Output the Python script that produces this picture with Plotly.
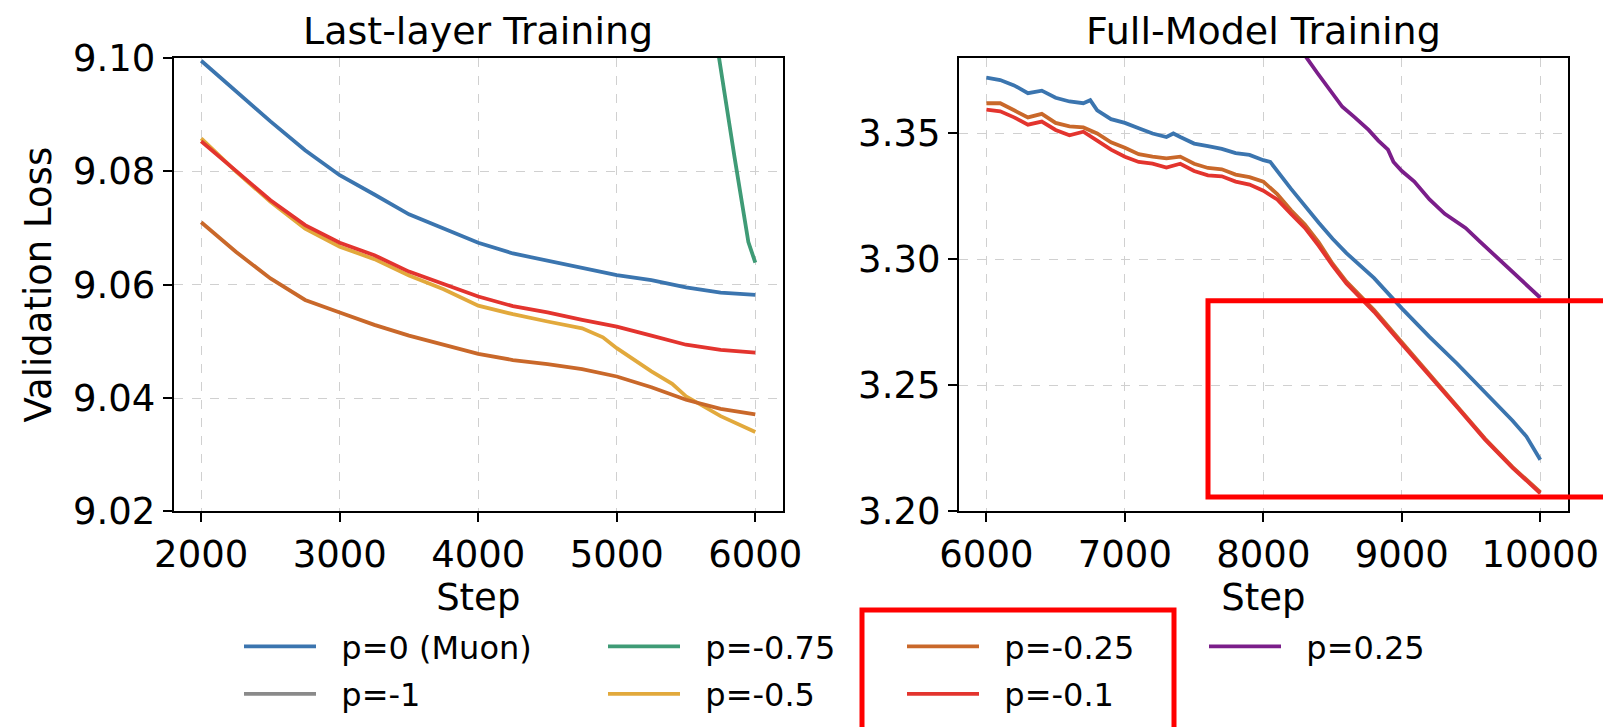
import plotly.graph_objects as go

# ---------------- data ----------------
# Left panel: Last-layer Training
ll_steps = [2000, 2250, 2500, 2750, 3000, 3250, 3500, 3750, 4000,
            4250, 4500, 4750, 5000, 5250, 5500, 5750, 6000]
ll_p0 = [9.0995, 9.0941, 9.0888, 9.0837, 9.0793, 9.0759, 9.0724, 9.0699, 9.0674,
         9.0655, 9.0642, 9.0630, 9.0617, 9.0608, 9.0595, 9.0586, 9.0582]
ll_pm01 = [9.0853, 9.0800, 9.0749, 9.0705, 9.0674, 9.0652, 9.0623, 9.0601, 9.0579,
           9.0562, 9.0551, 9.0538, 9.0526, 9.0510, 9.0494, 9.0485, 9.0480]
ll_pm025 = [9.0710, 9.0658, 9.0611, 9.0573, 9.0551, 9.0529, 9.0510, 9.0494, 9.0478,
            9.0467, 9.0460, 9.0451, 9.0438, 9.0419, 9.0397, 9.0381, 9.0371]
ll_steps_pm05 = [2000, 2250, 2500, 2750, 3000, 3250, 3500, 3750, 4000,
                 4250, 4500, 4750, 4900, 5000, 5250, 5400, 5500, 5750, 6000]
ll_pm05 = [9.0858, 9.0800, 9.0746, 9.0699, 9.0667, 9.0645, 9.0616, 9.0592, 9.0563,
           9.0548, 9.0535, 9.0523, 9.0507, 9.0488, 9.0447, 9.0425, 9.0403, 9.0368, 9.0340]
ll_steps_pm075 = [5700, 5750, 5850, 5950, 6000]
ll_pm075 = [9.106, 9.098, 9.0825, 9.0675, 9.0639]
# p=-1 lies entirely outside both plotted windows (legend entry only)
ll_steps_pm1 = [None]
ll_pm1 = [None]

# Right panel: Full-Model Training
fm_steps_p0 = [6000, 6100, 6200, 6300, 6400, 6500, 6600, 6700, 6750, 6800, 6900,
               7000, 7100, 7200, 7300, 7350, 7400, 7500, 7600, 7700, 7800, 7900,
               8000, 8050, 8200, 8300, 8400, 8500, 8600, 8800, 9000, 9200, 9400,
               9600, 9800, 9900, 10000]
fm_p0 = [3.3722, 3.3712, 3.3691, 3.3660, 3.3670, 3.3642, 3.3627, 3.3620, 3.3632,
         3.3592, 3.3557, 3.3542, 3.3521, 3.3500, 3.3486, 3.3500, 3.3486, 3.3460,
         3.3450, 3.3439, 3.3422, 3.3415, 3.3394, 3.3387, 3.3280, 3.3210, 3.3146,
         3.3082, 3.3025, 3.2926, 3.2806, 3.2693, 3.2586, 3.2473, 3.2360, 3.2297, 3.2205]
fm_steps = [6000, 6100, 6200, 6300, 6400, 6500, 6600, 6700, 6800, 6900, 7000,
            7100, 7200, 7300, 7400, 7500, 7600, 7700, 7800, 7900, 8000, 8100,
            8200, 8300, 8400, 8500, 8600, 8800, 9000, 9200, 9400, 9600, 9800, 10000]
fm_pm025 = [3.3620, 3.3620, 3.3592, 3.3564, 3.3578, 3.3542, 3.3528, 3.3524, 3.3500,
            3.3465, 3.3443, 3.3418, 3.3408, 3.3401, 3.3408, 3.3380, 3.3363, 3.3358,
            3.3337, 3.3327, 3.3309, 3.3259, 3.3195, 3.3139, 3.3068, 3.2983, 3.2912,
            3.2799, 3.2671, 3.2544, 3.2416, 3.2289, 3.2176, 3.2076]
fm_pm01 = [3.3595, 3.3588, 3.3564, 3.3535, 3.3547, 3.3514, 3.3493, 3.3507, 3.3472,
           3.3436, 3.3408, 3.3387, 3.3380, 3.3365, 3.3380, 3.3351, 3.3334, 3.3330,
           3.3309, 3.3297, 3.3273, 3.3238, 3.3181, 3.3125, 3.3054, 3.2976, 3.2905,
           3.2792, 3.2664, 3.2541, 3.2413, 3.2286, 3.2173, 3.2072]
fm_steps_p025 = [8250, 8300, 8390, 8500, 8570, 8660, 8760, 8830, 8900, 8940, 9000,
                 9090, 9200, 9310, 9460, 9570, 9680, 9830, 9900, 10000]
fm_p025 = [3.388, 3.381, 3.374, 3.3656, 3.3606, 3.3564, 3.3514, 3.3472, 3.3436,
           3.3387, 3.3351, 3.3309, 3.3238, 3.3181, 3.3125, 3.3068, 3.3011, 3.2933,
           3.2898, 3.2848]

ll_xticks = [2000, 3000, 4000, 5000, 6000]
ll_yticks = [9.02, 9.04, 9.06, 9.08, 9.10]
fm_xticks = [6000, 7000, 8000, 9000, 10000]
fm_yticks = [3.20, 3.25, 3.30, 3.35]

colors = {"p=0 (Muon)": "#3b75af", "p=-1": "#8a8a8a", "p=-0.75": "#3f9b76",
          "p=-0.5": "#e2a93c", "p=-0.25": "#c9682a", "p=-0.1": "#e3342e",
          "p=0.25": "#7b1e8a"}
legend_of = {"p=0 (Muon)": "legend", "p=-1": "legend",
             "p=-0.75": "legend2", "p=-0.5": "legend2",
             "p=-0.25": "legend3", "p=-0.1": "legend3",
             "p=0.25": "legend4"}

W, H = 1603, 727
FONT = "DejaVu Sans"
LW = 3.8
PAD = "\u00a0\u00a0"  # gap between legend handle and label

fig = go.Figure()

def add(x, y, name, xa, ya, show):
    fig.add_trace(go.Scatter(
        x=x, y=y, mode="lines", name=PAD + name,
        line=dict(color=colors[name], width=LW),
        xaxis=xa, yaxis=ya, showlegend=show,
        legend=legend_of[name], legendgroup=name,
    ))

# left panel traces (these carry the legend entries)
add(ll_steps, ll_p0, "p=0 (Muon)", "x", "y", True)
add(ll_steps_pm1, ll_pm1, "p=-1", "x", "y", True)
add(ll_steps_pm075, ll_pm075, "p=-0.75", "x", "y", True)
add(ll_steps_pm05, ll_pm05, "p=-0.5", "x", "y", True)
add(ll_steps, ll_pm025, "p=-0.25", "x", "y", True)
add(ll_steps, ll_pm01, "p=-0.1", "x", "y", True)
# right panel traces
add(fm_steps_p0, fm_p0, "p=0 (Muon)", "x2", "y2", False)
add(fm_steps, fm_pm025, "p=-0.25", "x2", "y2", False)
add(fm_steps, fm_pm01, "p=-0.1", "x2", "y2", False)
add(fm_steps_p025, fm_p025, "p=0.25", "x2", "y2", True)

def px_x(v):
    return v / W

def px_y(v):
    return 1 - v / H

axis_common = dict(
    showline=True, linecolor="black", linewidth=1.6, mirror=True,
    ticks="outside", ticklen=9, tickwidth=1.6, tickcolor="black",
    showgrid=True, gridcolor="#d0d0d0", griddash="dash", gridwidth=1.3,
    zeroline=False, tickfont=dict(family=FONT, size=37, color="black"),
    automargin=False,
)
title_font = dict(family=FONT, size=37, color="black")

ydom = [px_y(511.4), px_y(57.9)]
fig.update_layout(
    xaxis=dict(domain=[px_x(173.5), px_x(783)], range=[1800, 6200],
               tickvals=ll_xticks, ticktext=[str(v) for v in ll_xticks], anchor="y",
               title=dict(text="Step", font=title_font, standoff=4),
               **axis_common),
    yaxis=dict(domain=ydom, range=[9.02, 9.10], tickvals=ll_yticks,
               ticktext=[f"{v:.2f}" for v in ll_yticks], anchor="x",
               title=dict(text="Validation Loss", font=title_font, standoff=10),
               **axis_common),
    xaxis2=dict(domain=[px_x(958.7), px_x(1568)], range=[5800, 10200],
                tickvals=fm_xticks, ticktext=[str(v) for v in fm_xticks], anchor="y2",
                title=dict(text="Step", font=title_font, standoff=4),
                **axis_common),
    yaxis2=dict(domain=ydom, range=[3.20, 3.38], tickvals=fm_yticks,
                ticktext=[f"{v:.2f}" for v in fm_yticks], anchor="x2", **axis_common),
)

# subplot titles
for txt, xc in [("Last-layer Training", (173.5 + 783) / 2), ("Full-Model Training", (958.7 + 1568) / 2)]:
    fig.add_annotation(text=txt, x=px_x(xc), y=px_y(31), xref="paper", yref="paper",
                       xanchor="center", yanchor="middle", showarrow=False,
                       font=dict(family=FONT, size=38, color="black"))

# legends: four columns
leg_common = dict(orientation="v", xanchor="left", yanchor="top",
                  font=dict(family=FONT, size=32, color="black"),
                  bgcolor="rgba(0,0,0,0)", borderwidth=0, itemwidth=72,
                  tracegroupgap=3)
line_starts = [244, 608, 907, 1209]
leg_top = 619
fig.update_layout(
    legend=dict(x=px_x(line_starts[0] - 5), y=px_y(leg_top), **leg_common),
    legend2=dict(x=px_x(line_starts[1] - 5), y=px_y(leg_top), **leg_common),
    legend3=dict(x=px_x(line_starts[2] - 5), y=px_y(leg_top), **leg_common),
    legend4=dict(x=px_x(line_starts[3] - 5), y=px_y(leg_top), **leg_common),
)

# red highlight boxes
fig.add_shape(type="rect", xref="paper", yref="paper",
              x0=px_x(1208), x1=px_x(1640), y0=px_y(497), y1=px_y(300.7),
              line=dict(color="#ff0000", width=5), fillcolor="rgba(0,0,0,0)", layer="above")
fig.add_shape(type="rect", xref="paper", yref="paper",
              x0=px_x(862), x1=px_x(1174), y0=px_y(760), y1=px_y(610),
              line=dict(color="#ff0000", width=5), fillcolor="rgba(0,0,0,0)", layer="above")

fig.update_layout(
    width=W, height=H, margin=dict(l=0, r=0, t=0, b=0),
    paper_bgcolor="white", plot_bgcolor="white",
    font=dict(family=FONT, color="black"),
)

fig.write_html("out.html", config={"displayModeBar": False},
               post_script="document.body.style.margin='0';")
